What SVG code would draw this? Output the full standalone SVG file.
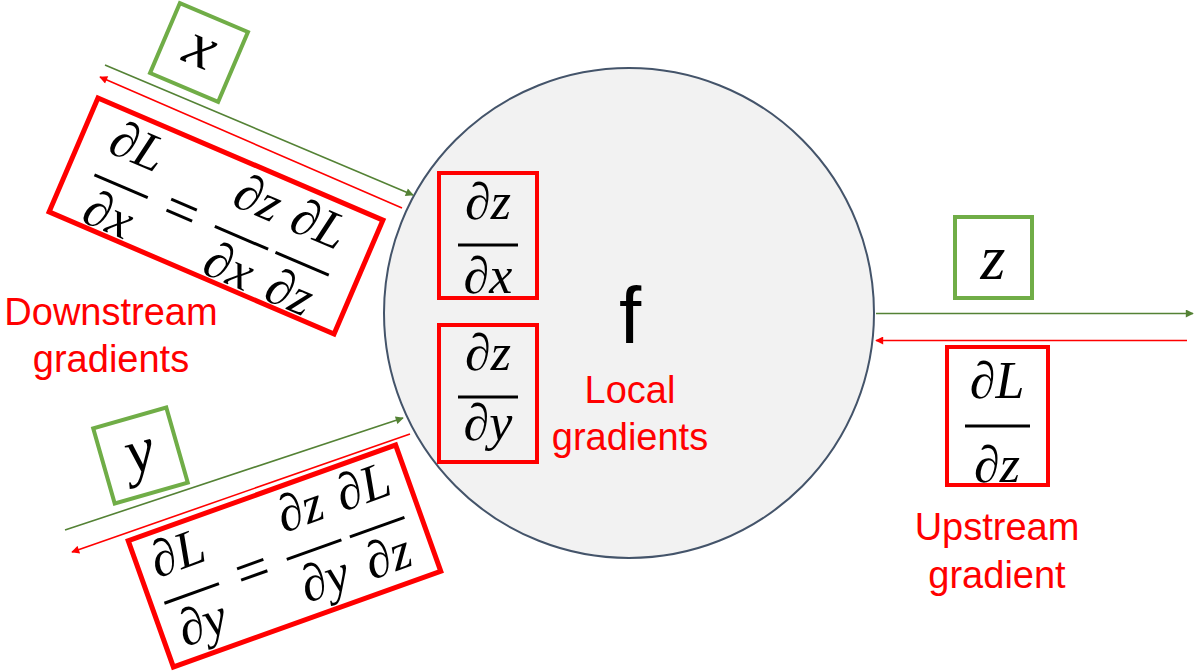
<svg xmlns="http://www.w3.org/2000/svg" width="1196" height="671" viewBox="0 0 1196 671">
<defs>
<style>
.m { font-family: "Liberation Serif", "DejaVu Serif", serif; font-size: 52px; fill: #000; text-anchor: middle; }
.big { font-size: 64px; }
.i { font-style: italic; }
.eq { font-size: 60px; }
.lbl { font-family: "Liberation Sans", Arial, sans-serif; font-size: 38px; fill: #ff0000; text-anchor: middle; }
.gbox { fill: #ffffff; stroke: #70ad47; stroke-width: 4; }
.rbox { fill: none; stroke: #ff0000; stroke-width: 5; }
.rbox2 { fill: none; stroke: #ff0000; stroke-width: 4; }
.bar { stroke: #000; stroke-width: 3; }
.gl { stroke: #548235; stroke-width: 1.6; fill: none; }
.rl { stroke: #ff0000; stroke-width: 1.6; fill: none; }
</style>
<marker id="ag" viewBox="0 0 10 10" refX="9" refY="5" markerWidth="10" markerHeight="8" markerUnits="userSpaceOnUse" orient="auto"><path d="M0,0 L10,5 L0,10 z" fill="#548235"/></marker>
<marker id="ar" viewBox="0 0 10 10" refX="9" refY="5" markerWidth="10" markerHeight="8" markerUnits="userSpaceOnUse" orient="auto"><path d="M0,0 L10,5 L0,10 z" fill="#ff0000"/></marker>
</defs>
<rect width="1196" height="671" fill="#ffffff"/>

<g id="node-f">
<circle cx="629" cy="313" r="245" fill="#f2f2f2" stroke="#44546a" stroke-width="2"/>
<text x="630" y="343" font-family="Liberation Sans, Arial, sans-serif" font-size="80" text-anchor="middle" fill="#000">f</text>
<text class="lbl" x="630" y="403">Local</text>
<text class="lbl" x="630" y="450">gradients</text>
</g>

<g id="connectors">
<line class="gl" x1="105" y1="65" x2="413" y2="195" marker-end="url(#ag)"/>
<line class="rl" x1="402" y1="208" x2="100" y2="77" marker-end="url(#ar)"/>
<line class="gl" x1="65" y1="530" x2="403" y2="418" marker-end="url(#ag)"/>
<line class="rl" x1="410" y1="434" x2="72" y2="552" marker-end="url(#ar)"/>
<line class="gl" x1="876" y1="313.5" x2="1193" y2="313.5" marker-end="url(#ag)"/>
<line class="rl" x1="1187" y1="340.5" x2="876" y2="340.5" marker-end="url(#ar)"/>
</g>

<g id="local-dzdx">
<rect class="rbox2" x="439" y="173" width="98" height="125"/>
<text class="m" x="488" y="219">∂<tspan class="i" font-style="italic">z</tspan></text>
<line class="bar" x1="458" y1="245" x2="518" y2="245"/>
<text class="m" x="488" y="293">∂<tspan class="i" font-style="italic">x</tspan></text>
</g>

<g id="local-dzdy">
<rect class="rbox2" x="439" y="325" width="98" height="137"/>
<text class="m" x="488" y="370">∂<tspan class="i" font-style="italic">z</tspan></text>
<line class="bar" x1="458" y1="397" x2="518" y2="397"/>
<text class="m" x="488" y="440">∂<tspan class="i" font-style="italic">y</tspan></text>
</g>

<g id="input-x" transform="translate(199,52.5) rotate(23.1)">
<rect class="gbox" x="-37" y="-38" width="74" height="76"/>
<text class="m big i" font-style="italic" x="0" y="14">x</text>
</g>

<g id="downstream-x" transform="translate(216,216) rotate(23.2)">
<rect class="rbox" x="-155" y="-62" width="310" height="124" fill="#ffffff"/>
<text class="m" x="-99" y="-16">∂<tspan class="i" font-style="italic">L</tspan></text>
<line class="bar" x1="-128" y1="10" x2="-70" y2="10"/>
<text class="m" x="-99" y="58">∂<tspan class="i" font-style="italic">x</tspan></text>
<text class="m eq" x="-34" y="28">=</text>
<text class="m" x="32" y="-16">∂<tspan class="i" font-style="italic">z</tspan></text>
<line class="bar" x1="3" y1="10" x2="61" y2="10"/>
<text class="m" x="32" y="58">∂<tspan class="i" font-style="italic">x</tspan></text>
<text class="m" x="98" y="-16">∂<tspan class="i" font-style="italic">L</tspan></text>
<line class="bar" x1="69" y1="10" x2="127" y2="10"/>
<text class="m" x="98" y="58">∂<tspan class="i" font-style="italic">z</tspan></text>
</g>

<g id="input-y" transform="translate(140.5,455.5) rotate(-16)">
<rect class="gbox" x="-38" y="-39" width="76" height="78"/>
<text class="m big i" font-style="italic" x="0" y="16">y</text>
</g>

<g id="downstream-y" transform="translate(284.5,556) rotate(-19.7)">
<rect class="rbox" x="-142" y="-67" width="284" height="134" fill="#ffffff"/>
<text class="m" x="-100" y="-22">∂<tspan class="i" font-style="italic">L</tspan></text>
<line class="bar" x1="-129" y1="4" x2="-71" y2="4"/>
<text class="m" x="-100" y="52">∂<tspan class="i" font-style="italic">y</tspan></text>
<text class="m eq" x="-35" y="22">=</text>
<text class="m" x="30" y="-22">∂<tspan class="i" font-style="italic">z</tspan></text>
<line class="bar" x1="1" y1="4" x2="59" y2="4"/>
<text class="m" x="30" y="52">∂<tspan class="i" font-style="italic">y</tspan></text>
<text class="m" x="97" y="-22">∂<tspan class="i" font-style="italic">L</tspan></text>
<line class="bar" x1="68" y1="4" x2="126" y2="4"/>
<text class="m" x="97" y="52">∂<tspan class="i" font-style="italic">z</tspan></text>
</g>

<g id="output-z">
<rect class="gbox" x="955" y="217" width="77" height="81"/>
<text class="m big i" font-style="italic" x="993" y="279">z</text>
</g>

<g id="upstream">
<rect class="rbox2" x="947" y="347" width="101" height="138"/>
<text class="m" x="997" y="398" font-size="54">∂<tspan class="i" font-style="italic">L</tspan></text>
<line class="bar" x1="965" y1="426" x2="1030" y2="426"/>
<text class="m" x="997" y="482" font-size="54">∂<tspan class="i" font-style="italic">z</tspan></text>
</g>

<g id="labels">
<text class="lbl" x="111" y="325">Downstream</text>
<text class="lbl" x="111" y="372">gradients</text>
<text class="lbl" x="997" y="540">Upstream</text>
<text class="lbl" x="997" y="588">gradient</text>
</g>
</svg>
